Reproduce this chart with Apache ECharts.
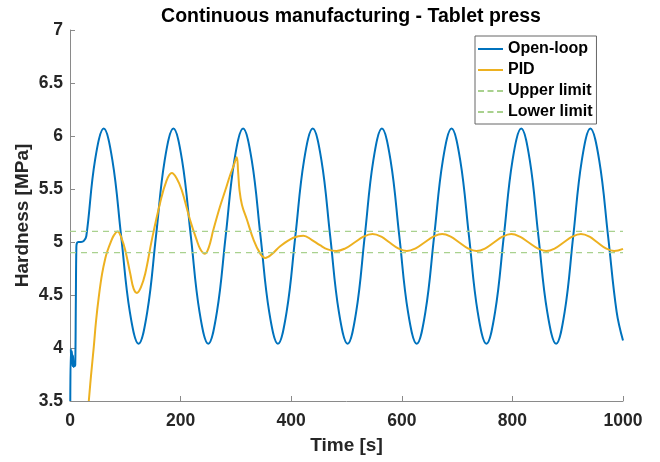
<!DOCTYPE html>
<html>
<head>
<meta charset="utf-8">
<script src="https://cdn.jsdelivr.net/npm/echarts@6/dist/echarts.min.js"></script>
<style>
html,body{margin:0;padding:0;background:#fff;}
#chart{width:660px;height:462px;}
</style>
</head>
<body>
<div id="chart"></div>
<script>
// ---- Data ----
const olTime = [0.5, 1.5, 2.5, 3.5, 4.5, 5.5, 6.5, 7.5, 8.5, 9.5, 10.5, 11.5, 12.5, 15, 20, 25, 29.5,
  45.2, 61, 76.7, 92.5, 108.2, 124, 139.7,
  155.5, 171.2, 187, 202.7, 218.5, 234.2, 250, 265.7,
  281.5, 297.2, 313, 328.7, 344.5, 360.2, 376, 391.7,
  407.5, 423.2, 439, 454.7, 470.5, 486.2, 502, 517.5,
  533, 548.5, 564, 579.7, 595.5, 611.2, 627, 642.7,
  658.5, 674.2, 690, 705.7, 721.5, 737.2, 753, 768.7,
  784.5, 800.2, 816, 831.5, 847, 863, 879, 894.5,
  910, 925.5, 941, 957, 973, 988.5, 1000];
const olHardness = [3.5, 3.99, 3.86, 3.97, 3.83, 3.93, 3.82, 3.86, 3.83, 3.84, 4.4, 4.95, 4.99, 5.0, 5.0, 5.01, 5.055,
  5.77, 6.07, 5.77, 5.055, 4.34, 4.04, 4.34,
  5.055, 5.77, 6.07, 5.77, 5.055, 4.34, 4.04, 4.34,
  5.055, 5.77, 6.07, 5.77, 5.055, 4.34, 4.04, 4.34,
  5.055, 5.77, 6.07, 5.77, 5.055, 4.34, 4.04, 4.34,
  5.055, 5.77, 6.07, 5.77, 5.055, 4.34, 4.04, 4.34,
  5.055, 5.77, 6.07, 5.77, 5.055, 4.34, 4.04, 4.34,
  5.055, 5.77, 6.07, 5.77, 5.055, 4.34, 4.04, 4.34,
  5.055, 5.77, 6.07, 5.77, 5.055, 4.34, 4.07];

const pidTime = [34, 38, 43, 47, 52, 58, 64, 68, 73, 79, 86, 93, 100, 109, 115, 121, 128, 136,
  148, 163, 174, 184, 193, 202, 217, 229, 236, 244, 251, 259, 271, 281, 289.5, 296, 301.5,
  304, 306.5, 311, 320, 332, 344, 353, 366, 380, 404, 422, 437, 452, 466,
  482, 498, 514.5, 530.5, 547, 563, 578, 593.5,
  609, 625, 641, 657, 673, 688.5, 704, 719.5,
  735, 751, 766.5, 782, 798, 813.5, 829.5, 845.5,
  861, 877, 892.5, 908, 924, 939.5, 954, 969, 984, 1000];
const pidHardness = [3.5, 3.74, 4.01, 4.25, 4.48, 4.70, 4.85, 4.92, 4.99, 5.06, 5.10, 5.04, 4.92, 4.70, 4.56, 4.52, 4.57, 4.70,
  5.02, 5.37, 5.57, 5.65, 5.60, 5.49, 5.21, 5.02, 4.93, 4.89, 4.95, 5.11, 5.33, 5.49, 5.63, 5.72, 5.80,
  5.66, 5.49, 5.35, 5.21, 5.02, 4.89, 4.85, 4.89, 4.96, 5.04, 5.06, 5.02, 4.97, 4.93,
  4.915, 4.94, 4.995, 5.05, 5.075, 5.05, 4.995, 4.94,
  4.915, 4.94, 4.995, 5.05, 5.075, 5.05, 4.995, 4.94,
  4.915, 4.94, 4.995, 5.05, 5.075, 5.05, 4.995, 4.94,
  4.915, 4.94, 4.995, 5.05, 5.075, 5.05, 4.995, 4.94, 4.915, 4.935];

const limitTime = [0, 1000];
const upperLimit = [5.1, 5.1];
const lowerLimit = [4.9, 4.9];

const seriesNames = ['Open-loop', 'PID', 'Upper limit', 'Lower limit'];
const titleText = 'Continuous manufacturing - Tablet press';
const xLabel = 'Time [s]';
const yLabel = 'Hardness [MPa]';

// ---- Chart ----
function zip(xs, ys) { return xs.map((x, i) => [x, ys[i]]); }

const FONT = '"Liberation Sans", Arial, Helvetica, sans-serif';
const TXT = '#262626';
const AX = '#8a8a8a';
const BLUE = '#0072BD', ORANGE = '#EDB120', GREEN = '#a9d18e';
const SOLID_ICON = 'path://M0,0H25V2H0Z';
const DASH_ICON = 'path://M0,0H6V2H0Z M9.5,0H15.5V2H9.5Z M19,0H25V2H19Z';

const chart = echarts.init(document.getElementById('chart'), null, {renderer: 'canvas'});
chart.setOption({
  animation: false,
  backgroundColor: '#ffffff',
  title: {
    text: titleText,
    left: 346,
    textAlign: 'center',
    top: 2,
    textStyle: {fontFamily: FONT, fontWeight: 'bold', fontSize: 19.5, color: '#000'}
  },
  legend: {
    orient: 'vertical',
    left: 475,
    top: 36,
    width: 121,
    padding: [5, 4, 4, 3],
    itemGap: 5,
    itemWidth: 25,
    itemHeight: 2,
    backgroundColor: '#fff',
    borderColor: '#666',
    borderWidth: 1,
    textStyle: {fontFamily: FONT, fontWeight: 'bold', fontSize: 16, color: '#000', lineHeight: 16},
    data: [
      {name: seriesNames[0], icon: SOLID_ICON},
      {name: seriesNames[1], icon: SOLID_ICON},
      {name: seriesNames[2], icon: DASH_ICON},
      {name: seriesNames[3], icon: DASH_ICON}
    ]
  },
  grid: {left: 70, right: 37, top: 30, bottom: 61, containLabel: false},
  xAxis: {
    type: 'value', min: 0, max: 1000, interval: 200,
    name: xLabel, nameLocation: 'middle', nameGap: 35, nameMoveOverlap: false,
    nameTextStyle: {fontFamily: FONT, fontWeight: 'bold', fontSize: 19, color: TXT},
    axisLine: {lineStyle: {color: AX, width: 1}},
    axisTick: {inside: true, length: 5, lineStyle: {color: AX}},
    axisLabel: {fontFamily: FONT, fontWeight: 'bold', fontSize: 17.5, color: TXT, margin: 11,
      formatter: function (v) { return String(v); }},
    splitLine: {show: false}
  },
  yAxis: {
    type: 'value', min: 3.5, max: 7, interval: 0.5,
    name: yLabel, nameLocation: 'middle', nameGap: 38, nameMoveOverlap: false,
    nameTextStyle: {fontFamily: FONT, fontWeight: 'bold', fontSize: 19, color: TXT},
    axisLine: {show: true, lineStyle: {color: AX, width: 1}},
    axisTick: {show: true, inside: true, length: 5, lineStyle: {color: AX}},
    axisLabel: {fontFamily: FONT, fontWeight: 'bold', fontSize: 17.5, color: TXT, margin: 7},
    splitLine: {show: false}
  },
  series: [
    {name: seriesNames[0], type: 'line', data: zip(olTime, olHardness), showSymbol: false, symbol: 'none',
      smooth: 0.4, lineStyle: {color: BLUE, width: 2}, itemStyle: {color: BLUE}, z: 2},
    {name: seriesNames[1], type: 'line', data: zip(pidTime, pidHardness), showSymbol: false, symbol: 'none',
      smooth: 0.4, lineStyle: {color: ORANGE, width: 2}, itemStyle: {color: ORANGE}, z: 3},
    {name: seriesNames[2], type: 'line', data: zip(limitTime, upperLimit), showSymbol: false, symbol: 'none',
      lineStyle: {color: GREEN, width: 1.2, type: [6, 5]}, itemStyle: {color: GREEN}, z: 4},
    {name: seriesNames[3], type: 'line', data: zip(limitTime, lowerLimit), showSymbol: false, symbol: 'none',
      lineStyle: {color: GREEN, width: 1.2, type: [6, 5]}, itemStyle: {color: GREEN}, z: 4}
  ]
});
</script>
</body>
</html>
